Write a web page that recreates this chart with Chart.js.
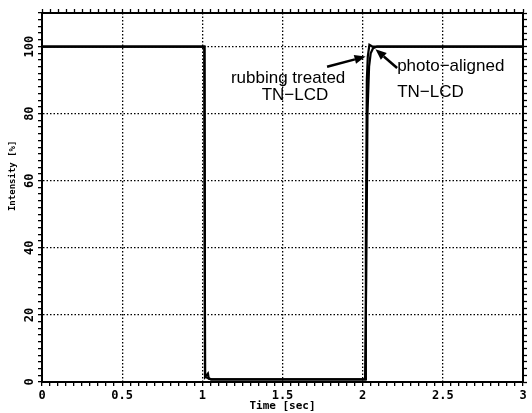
<!DOCTYPE html>
<html>
<head>
<meta charset="utf-8">
<script src="https://cdn.jsdelivr.net/npm/chart.js@4/dist/chart.umd.min.js"></script>
<style>
  html, body { margin: 0; padding: 0; background: #fff; }
  #wrap { width: 532px; height: 413px; position: relative; }
</style>
</head>
<body>
<div id="wrap"><canvas id="c"></canvas></div>
<script>
// ---- data ----
const timeRubbing      = [0, 1.013, 1.017, 1.035, 1.04, 1.055, 2.015, 2.02, 2.026, 2.032, 2.042, 2.06, 3];
const intensityRubbing = [100, 100, 1.5, 2.5, 1, 0.8, 0.8, 40, 90, 97, 100.5, 100, 100];
const timePhoto        = [0, 1.013, 1.017, 1.035, 1.055, 2.015, 2.022, 2.03, 2.04, 2.05, 2.065, 2.09, 3];
const intensityPhoto   = [100, 100, 1.5, 1.2, 0.8, 0.8, 30, 80, 94, 98, 99.5, 100, 100];
const seriesNames      = ['rubbing treated TN−LCD', 'photo−aligned TN−LCD'];
const xTickLabels      = ['0', '0.5', '1', '1.5', '2', '2.5', '3'];
const yTickLabels      = ['0', '20', '40', '60', '80', '100'];

const toPoints = (xs, ys) => xs.map((x, i) => ({ x: x, y: ys[i] }));

const MONO = '"DejaVu Sans Mono", "Liberation Mono", monospace';
const isMultiple = (v, step) => Math.abs(v / step - Math.round(v / step)) < 1e-6;

const annotations = {
  texts: [
    { text: 'rubbing treated', t: 1.535, v: 90.5, align: 'center' },
    { text: 'TN−LCD',          t: 1.578, v: 85.4, align: 'center' },
    { text: 'photo−aligned',   t: 2.215, v: 94.2, align: 'left' },
    { text: 'TN−LCD',          t: 2.215, v: 86.3, align: 'left' }
  ],
  arrows: [
    { from: [1.778, 94.0], to: [2.018, 97.0] },
    { from: [2.215, 93.6], to: [2.08, 99.2] }
  ]
};

const annotationPlugin = {
  id: 'notes',
  afterDatasetsDraw(chart) {
    const { ctx } = chart;
    const xs = chart.scales.x, ys = chart.scales.y;
    ctx.save();
    ctx.fillStyle = '#000';
    ctx.strokeStyle = '#000';
    ctx.font = '17px "Liberation Sans", Arial, sans-serif';
    ctx.textBaseline = 'middle';
    annotations.texts.forEach(n => {
      ctx.textAlign = n.align;
      ctx.fillText(n.text, xs.getPixelForValue(n.t), ys.getPixelForValue(n.v));
    });
    annotations.arrows.forEach(a => {
      const x1 = xs.getPixelForValue(a.from[0]), y1 = ys.getPixelForValue(a.from[1]);
      const x2 = xs.getPixelForValue(a.to[0]),   y2 = ys.getPixelForValue(a.to[1]);
      const ang = Math.atan2(y2 - y1, x2 - x1);
      const hl = 11, hw = 4.5;
      const bx = x2 - hl * Math.cos(ang), by = y2 - hl * Math.sin(ang);
      ctx.lineWidth = 2.5;
      ctx.beginPath();
      ctx.moveTo(x1, y1);
      ctx.lineTo(bx, by);
      ctx.stroke();
      ctx.beginPath();
      ctx.moveTo(x2, y2);
      ctx.lineTo(bx + hw * Math.sin(ang), by - hw * Math.cos(ang));
      ctx.lineTo(bx - hw * Math.sin(ang), by + hw * Math.cos(ang));
      ctx.closePath();
      ctx.fill();
    });
    ctx.restore();
  }
};

const tickFont = { family: MONO, size: 12, weight: 'bold' };

new Chart(document.getElementById('c'), {
  type: 'line',
  data: {
    datasets: [
      { label: seriesNames[0], data: toPoints(timeRubbing, intensityRubbing),
        borderColor: '#000', borderWidth: 2.2, pointRadius: 0, tension: 0, fill: false },
      { label: seriesNames[1], data: toPoints(timePhoto, intensityPhoto),
        borderColor: '#000', borderWidth: 2.2, pointRadius: 0, tension: 0, fill: false }
    ]
  },
  options: {
    responsive: true,
    maintainAspectRatio: false,
    animation: false,
    layout: { padding: 0 },
    plugins: { legend: { display: false }, tooltip: { enabled: false } },
    scales: {
      x: {
        type: 'linear', position: 'bottom', min: 0, max: 3,
        afterFit: s => { s.height = 31; },
        ticks: {
          stepSize: 0.05, autoSkip: false, maxRotation: 0, minRotation: 0,
          color: '#000', font: tickFont, padding: 3,
          callback: v => isMultiple(v, 0.5) ? xTickLabels[Math.round(v / 0.5)] : ''
        },
        grid: {
          color: c => (c.tick && isMultiple(c.tick.value, 0.5) && c.tick.value > 0.01 && c.tick.value < 2.99) ? '#000' : 'rgba(0,0,0,0)',
          lineWidth: 1.3, tickColor: '#000', tickLength: 4, tickWidth: 1.3
        },
        border: { color: '#000', width: 2, dash: [1.5, 2] },
        title: { display: true, text: 'Time [sec]', color: '#000',
                 font: { family: MONO, size: 11, weight: 'bold' }, padding: { top: 0, bottom: 0 } }
      },
      x2: {
        type: 'linear', position: 'top', min: 0, max: 3,
        afterFit: s => { s.height = 13; },
        ticks: { stepSize: 0.05, autoSkip: false, display: false },
        grid: { drawOnChartArea: false, tickColor: '#000', tickLength: 4, tickWidth: 1.3 },
        border: { color: '#000', width: 2 }
      },
      y: {
        type: 'linear', position: 'left', min: 0, max: 110,
        afterFit: s => { s.width = 42; },
        ticks: {
          stepSize: 2, autoSkip: false, minRotation: 90, maxRotation: 90,
          crossAlign: 'center', padding: -3,
          color: '#000', font: tickFont,
          callback: v => (isMultiple(v, 20) && v <= 100) ? yTickLabels[Math.round(v / 20)] : ''
        },
        grid: {
          color: c => (c.tick && isMultiple(c.tick.value, 20) && c.tick.value > 1 && c.tick.value < 109) ? '#000' : 'rgba(0,0,0,0)',
          lineWidth: 1.3, tickColor: '#000', tickLength: 4, tickWidth: 1.3
        },
        border: { color: '#000', width: 2, dash: [1.5, 2] },
        title: { display: true, text: '        Intensity [%]', color: '#000',
                 font: { family: MONO, size: 9, weight: 'bold' }, padding: { top: 7, bottom: 0 } }
      },
      y2: {
        type: 'linear', position: 'right', min: 0, max: 110,
        afterFit: s => { s.width = 9; },
        ticks: { stepSize: 2, autoSkip: false, display: false },
        grid: { drawOnChartArea: false, tickColor: '#000', tickLength: 4, tickWidth: 1.3 },
        border: { color: '#000', width: 2 }
      }
    }
  },
  plugins: [annotationPlugin]
});
</script>
</body>
</html>
